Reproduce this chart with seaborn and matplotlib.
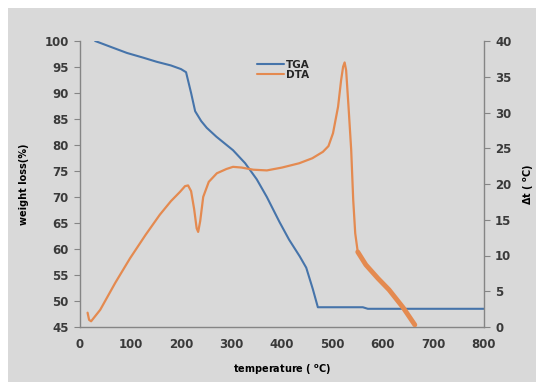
import matplotlib
matplotlib.use("Agg")
import matplotlib.pyplot as plt
import seaborn as sns
import pandas as pd

# TGA curve (weight loss %, left axis)
temp_tga = [30, 60, 93, 125, 152, 180, 200, 210, 220, 228, 240, 251, 270, 303, 327,
            350, 370, 395, 414, 435, 448, 461, 471, 480, 560, 570, 800]
tga = [100, 98.9, 97.7, 96.8, 96.0, 95.3, 94.6, 94.0, 90.0, 86.5, 84.6, 83.3, 81.6, 79.0, 76.5,
       73.4, 70.0, 65.2, 61.8, 58.6, 56.4, 52.3, 48.8, 48.8, 48.8, 48.5, 48.5]

# DTA curve (delta t, right axis)
temp_dta = [15, 18, 22, 40, 70, 99, 130, 158, 180, 198, 208, 214, 220, 226, 231, 234, 238,
            244, 255, 271, 290, 303, 320, 343, 370, 400, 434, 460, 481, 492, 501, 511, 517,
            521, 524, 527, 532, 537, 541, 545, 550, 566, 590, 612, 640, 663]
dta = [2.0, 1.0, 0.8, 2.4, 6.2, 9.6, 12.9, 15.7, 17.6, 18.9, 19.7, 19.8, 19.0, 16.5, 13.8, 13.3, 14.8,
       18.2, 20.3, 21.5, 22.1, 22.4, 22.3, 22.0, 21.9, 22.3, 22.9, 23.6, 24.5, 25.3, 27.1, 30.8, 34.5,
       36.4, 37.0, 35.9, 30.5, 24.8, 17.8, 13.1, 10.5, 8.7, 6.8, 5.2, 2.7, 0.3]

x_ticks = [0, 100, 200, 300, 400, 500, 600, 700, 800]
left_ticks = [45, 50, 55, 60, 65, 70, 75, 80, 85, 90, 95, 100]
right_ticks = [0, 5, 10, 15, 20, 25, 30, 35, 40]

BLUE = "#4674aa"
ORANGE = "#e48a50"
BG = "#d9d9d9"
TXT = "#3a3a3a"
SPINE = "#858585"


def main():
    sns.set_style("white")
    plt.rcParams["font.family"] = ["DejaVu Sans"]
    plt.rcParams["font.weight"] = "bold"

    df_tga = pd.DataFrame({"temp": temp_tga, "val": tga})
    df_dta = pd.DataFrame({"temp": temp_dta, "val": dta})

    fig = plt.figure(figsize=(5.36, 3.82), dpi=100)
    fig.patch.set_facecolor("white")
    # gray chart area, leaving a thin white strip top and left
    fig.patches.append(plt.Rectangle((8 / 536, 0), 1, 1 - 8 / 382, transform=fig.transFigure,
                                     facecolor=BG, edgecolor="none", zorder=-10))

    ax = fig.add_axes([80 / 536, 1 - 327 / 382, 404 / 536, 286 / 382])
    ax.set_facecolor("none")
    ax2 = ax.twinx()
    ax2.set_facecolor("none")

    sns.lineplot(data=df_tga, x="temp", y="val", ax=ax, color=BLUE, linewidth=1.5,
                 estimator=None, sort=False, legend=False)
    sns.lineplot(data=df_dta, x="temp", y="val", ax=ax2, color=ORANGE, linewidth=1.6,
                 estimator=None, sort=False, legend=False)
    # noisy, thick tail of the DTA signal
    tail = df_dta[df_dta["temp"] >= 550]
    sns.lineplot(data=tail, x="temp", y="val", ax=ax2, color=ORANGE, linewidth=3.5,
                 estimator=None, sort=False, legend=False)

    ax.set_xlim(0, 800)
    ax.set_ylim(45, 100)
    ax2.set_ylim(0, 40)
    ax.set_xticks(x_ticks)
    ax.set_yticks(left_ticks)
    ax2.set_yticks(right_ticks)

    for a in (ax, ax2):
        for s in a.spines.values():
            s.set_visible(False)
    ax.spines["left"].set_visible(True)
    ax.spines["bottom"].set_visible(True)
    ax2.spines["right"].set_visible(True)
    for s in (ax.spines["left"], ax.spines["bottom"], ax2.spines["right"]):
        s.set_color(SPINE)
        s.set_linewidth(1.0)

    ax.tick_params(axis="both", direction="out", length=4, width=0.8, color=SPINE,
                   labelsize=8.5, labelcolor=TXT, pad=4)
    ax2.tick_params(axis="y", direction="out", length=4, width=0.8, color=SPINE,
                    labelsize=8.5, labelcolor=TXT, pad=4)

    ax.set_xlabel("temperature ( $^{\\mathregular{o}}$C)", fontsize=7, fontweight="bold",
                  color="black", labelpad=8)
    ax.set_ylabel("weight loss(%)", fontsize=7, fontweight="bold", color="black", labelpad=11)
    ax2.set_ylabel("\u0394t ( $^{\\mathregular{o}}$C)", fontsize=7, fontweight="bold",
                   color="black", labelpad=7)

    handles = [plt.Line2D([], [], color=BLUE, linewidth=1.5),
               plt.Line2D([], [], color=ORANGE, linewidth=1.5)]
    ax.legend(handles, ["TGA", "DTA"], loc="upper left", bbox_to_anchor=(0.42, 0.96),
              frameon=False, fontsize=7.5, handlelength=2.6, handletextpad=0.2,
              labelspacing=0.0, borderpad=0.2)

    plt.savefig("out.png", dpi=100, facecolor=fig.get_facecolor())
    plt.close()


if __name__ == "__main__":
    main()
